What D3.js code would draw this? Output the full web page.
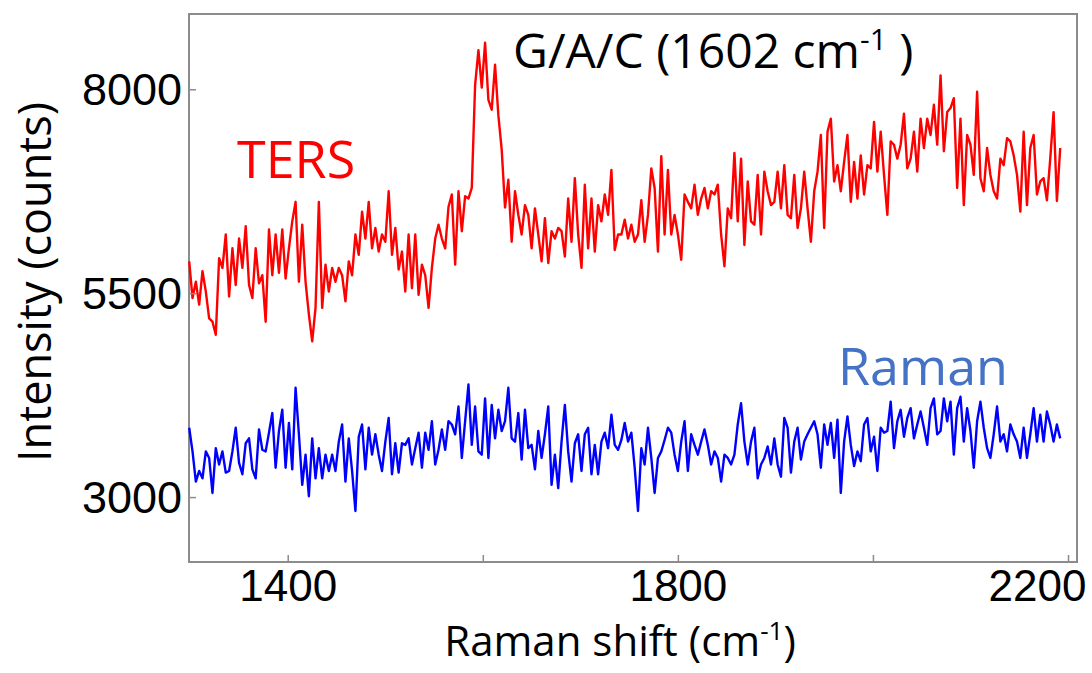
<!DOCTYPE html>
<html>
<head>
<meta charset="utf-8">
<script src="https://cdn.jsdelivr.net/npm/d3@7"></script>
<style>
  html, body { margin: 0; padding: 0; background: #ffffff; }
  svg { display: block; font-family: "Open Sans", "Noto Sans", sans-serif; }
</style>
</head>
<body>
<svg id="chart" width="1092" height="673"></svg>
<script>
// ---------------- data ----------------
// Raman shift range covered by both spectra (cm-1); points are evenly spaced
const shiftRange = [1299, 2192];

// TERS spectrum intensity (counts)
const tersCounts = [
  5890,5440,5640,5360,5770,5520,5190,5150,4990,5930,
  5810,6220,5460,6050,5600,6170,5810,6320,5600,5440,
  6050,5620,5720,5150,6280,5720,6220,5750,6280,5680,
  6050,6380,6620,5640,6340,5640,5240,4910,5320,6620,
  5320,5850,5520,5810,5640,5810,5720,5400,5890,5720,
  6220,5970,6500,6170,6620,6050,6300,6010,6220,6130,
  6750,5970,6300,5790,6010,5520,6220,5560,6220,5480,
  5850,5720,5320,5810,6170,6340,6170,6050,6560,6710,
  5850,6750,6260,6690,6660,6790,8050,8480,
  8020,8570,7870,7750,8300,7680,7260,6550,6890,6130,
  6750,6460,6220,6580,6460,6050,6540,6220,5890,6420,
  5870,6260,6170,6300,6260,5950,6660,6130,6910,6220,
  5810,6830,6050,6660,6010,6580,6380,6710,6460,7010,
  6030,6220,6220,6400,6170,6340,6130,6220,6640,6130,
  6460,7030,6790,6010,7180,6220,7010,6220,6460,6220,
  5910,6710,6620,6540,6830,6460,6660,6790,6540,6750,
  6710,6830,6220,5830,6540,6420,7220,6380,7150,6090,
  6870,6380,6340,6950,6220,6990,6750,6580,
  6620,6990,6540,7070,6460,6420,6950,6300,6540,6990,
  6540,6130,6750,6990,7440,6300,7480,7640,6870,7070,
  6750,7110,7440,6620,7110,6660,7190,6710,7070,7030,
  7600,6990,7480,6950,6460,7360,7320,7150,7320,7700,
  7030,7150,7480,6990,7640,7280,7640,7440,7810,7320,
  8170,7240,7720,7770,7890,6790,7640,6580,7440,7320,
  6950,7970,6910,6750,7280,6950,6750,6660,7150,7070,
  7400,7360,7190,6950,6500,7480,6580,7280,7440,6710,
  6870,6910,6640,7150,7720,6630,7280
];

// Conventional Raman spectrum intensity (counts)
const ramanCounts = [
  3850,3560,3190,3320,3230,3560,3480,3050,3600,3400,
  3560,3300,3320,3560,3850,3420,3280,3660,3720,3340,
  3230,3830,3580,3560,3790,4030,3360,3810,4070,3360,
  3910,3340,4340,3770,3150,3520,3010,3720,3230,3600,
  3230,3520,3320,3520,3320,3680,3890,3190,3720,3320,
  2830,3740,3890,3340,3850,3520,3770,3520,3320,3680,
  3970,3280,3660,3300,3660,3640,3720,3400,3600,3790,
  3360,3790,3580,3930,3400,3580,3830,3580,3930,3890,
  3770,4110,3480,3930,4380,3640,4110,3560,
  3520,4210,3480,4130,3720,4070,3810,3930,4340,3720,
  3680,4030,3460,4070,3600,3640,3340,3810,3480,3770,
  4110,3150,3520,3110,3680,4130,3560,3190,3660,3770,
  3320,3770,3850,3280,3640,3280,3680,3790,3600,4010,
  3640,3580,3700,3910,3680,3790,3360,2830,3600,3400,
  3850,3480,3050,3480,3560,3700,3850,3790,3520,3320,
  3680,3930,3320,3770,3640,3520,3680,3830,3640,3400,
  3560,3480,3190,3520,3480,3400,3520,3890,4150,3680,
  3400,3680,3850,3230,3400,3480,3620,3400,
  3720,3400,3250,3970,3850,3300,3680,3850,3460,3680,
  3770,3850,3930,3770,3360,3890,3640,3910,3480,3950,
  3050,3680,3990,3640,3380,3560,3440,3890,3970,3560,
  3740,3320,3850,3790,3810,4170,3600,3930,4070,3740,
  3970,4090,3720,3890,4050,3850,3640,4090,4210,3770,
  3810,4210,3930,4170,3520,4090,4230,3680,4090,3810,
  3360,3930,4170,3850,3600,3480,3770,4110,3680,3770,
  3560,3890,3770,3680,3480,3850,3480,3770,4090,3680,
  4010,3680,4050,3890,3680,3890,3720
];

// axis ticks and labels
const xTickValues = [1400, 1600, 1800, 2000, 2200];
const xTickLabels = ["1400", "", "1800", "", "2200"];
const yTickValues = [3000, 5500, 8000];
const yTickLabels = ["3000", "5500", "8000"];

// visible axis extents read from the frame
const xDomain = [1298.8, 2209.2];
const yDomain = [2204, 8923];

// ---------------- drawing ----------------
const svg = d3.select("#chart");
const frame = { left: 189, right: 1077, top: 14, bottom: 562 };

const x = d3.scaleLinear().domain(xDomain).range([frame.left, frame.right]);
const y = d3.scaleLinear().domain(yDomain).range([frame.bottom, frame.top]);

function shiftAt(i, n) {
  return shiftRange[0] + i * (shiftRange[1] - shiftRange[0]) / (n - 1);
}

const line = d3.line()
  .x(d => x(d.s))
  .y(d => y(d.v));

const tersData = tersCounts.map((v, i) => ({ s: shiftAt(i, tersCounts.length), v }));
const ramanData = ramanCounts.map((v, i) => ({ s: shiftAt(i, ramanCounts.length), v }));

// frame
svg.append("rect")
  .attr("x", frame.left).attr("y", frame.top)
  .attr("width", frame.right - frame.left)
  .attr("height", frame.bottom - frame.top)
  .attr("fill", "none")
  .attr("stroke", "#8c8c8c")
  .attr("stroke-width", 2);

// spectra
svg.append("path").datum(ramanData)
  .attr("d", line)
  .attr("fill", "none")
  .attr("stroke", "#0000ff")
  .attr("stroke-width", 2.4)
  .attr("stroke-linejoin", "round");

svg.append("path").datum(tersData)
  .attr("d", line)
  .attr("fill", "none")
  .attr("stroke", "#ff0000")
  .attr("stroke-width", 2.4)
  .attr("stroke-linejoin", "round");

// x axis
const xAxis = d3.axisBottom(x)
  .tickValues(xTickValues)
  .tickFormat((d, i) => xTickLabels[i])
  .tickSizeInner(-7)
  .tickSizeOuter(0)
  .tickPadding(8);

const gx = svg.append("g")
  .attr("transform", `translate(0,${frame.bottom})`)
  .call(xAxis);
gx.select(".domain").remove();
gx.selectAll(".tick line").attr("stroke", "#8c8c8c").attr("stroke-width", 1.5);
gx.selectAll(".tick text")
  .attr("fill", "#000")
  .style("font-size", "44px")
  .attr("dy", "0.71em");
// last label is pulled inside the picture, as in the reference
gx.selectAll(".tick text").filter((d) => d === 2200)
  .attr("text-anchor", "end")
  .attr("x", 1086 - x(2200));

// y axis
const yAxis = d3.axisLeft(y)
  .tickValues(yTickValues)
  .tickFormat((d, i) => yTickLabels[i])
  .tickSizeInner(-7)
  .tickSizeOuter(0)
  .tickPadding(8);

const gy = svg.append("g")
  .attr("transform", `translate(${frame.left},0)`)
  .call(yAxis);
gy.select(".domain").remove();
gy.selectAll(".tick line").attr("stroke", "#8c8c8c").attr("stroke-width", 1.5);
gy.selectAll(".tick text")
  .attr("fill", "#000")
  .style("font-size", "45px")
  .attr("x", -7)
  .attr("dy", "0.34em");

// axis titles
const xTitle = svg.append("text")
  .attr("x", 620).attr("y", 656)
  .attr("text-anchor", "middle")
  .style("font-size", "42px")
  .attr("fill", "#000");
xTitle.append("tspan").text("Raman shift (cm");
xTitle.append("tspan").text("-1").style("font-size", "26px").attr("dy", -16);
xTitle.append("tspan").text(")").attr("dy", 16);

svg.append("text")
  .attr("transform", "translate(51,282) rotate(-90)")
  .attr("text-anchor", "middle")
  .style("font-size", "45px")
  .attr("fill", "#000")
  .text("Intensity (counts)");

// annotations
svg.append("text")
  .attr("x", 237).attr("y", 178)
  .style("font-size", "52px")
  .attr("fill", "#ff0000")
  .text("TERS");

svg.append("text")
  .attr("x", 838).attr("y", 385)
  .style("font-size", "52px")
  .attr("fill", "#4472c4")
  .text("Raman");

const peak = svg.append("text")
  .attr("x", 513).attr("y", 68)
  .style("font-size", "48px")
  .attr("fill", "#000");
peak.append("tspan").text("G/A/C (1602 cm");
peak.append("tspan").text("-1").style("font-size", "30px").attr("dy", -18);
peak.append("tspan").text(" )").attr("dy", 18);
</script>
</body>
</html>
